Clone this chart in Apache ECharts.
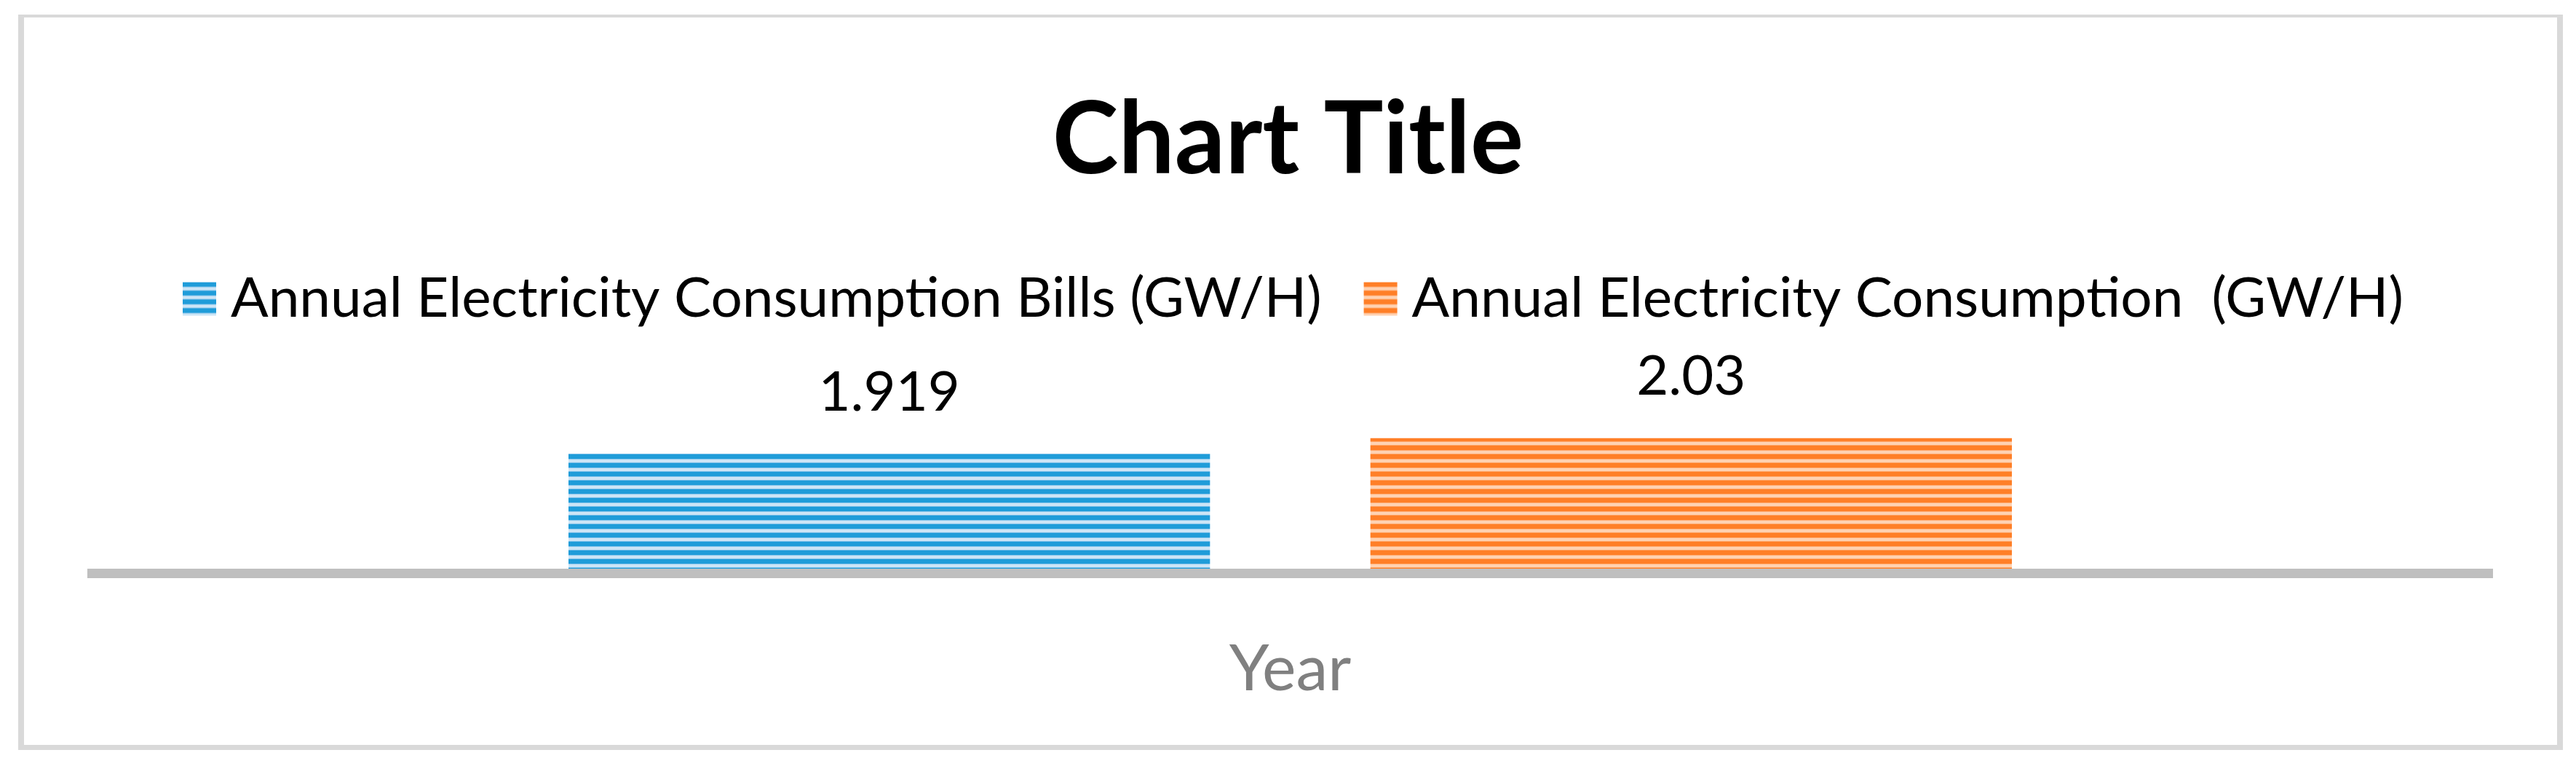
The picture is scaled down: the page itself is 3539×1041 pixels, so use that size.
<!DOCTYPE html>
<html><head><meta charset="utf-8">
<script src="https://cdn.jsdelivr.net/npm/echarts@6/dist/echarts.min.js"></script>
<style>html,body{margin:0;padding:0;background:#fff}#c{width:3539px;height:1041px}</style>
</head><body><div id="c"></div>
<script>
const categories = [''];
const seriesNames = ['Annual Electricity Consumption Bills (GW/H)', 'Annual Electricity Consumption  (GW/H)'];
const billsValues = [1.919];
const consumptionValues = [2.03];
const chartTitle = 'Chart Title';
const axisName = 'Year';

const FONT = 'Lato';

function stripes(dark, mid, light) {
  const c = document.createElement('canvas');
  c.width = 8; c.height = 12;
  const g = c.getContext('2d');
  g.fillStyle = light; g.fillRect(0, 0, 8, 12);
  g.fillStyle = mid; g.fillRect(0, 6, 8, 1); g.fillRect(0, 11, 8, 1);
  g.fillStyle = dark; g.fillRect(0, 0, 8, 6);
  return c;
}
const bluePattern = { image: stripes('#1f9cd9', '#7cc0e9', '#cde5f6'), repeat: 'repeat' };
const orangePattern = { image: stripes('#ff7f27', '#ffa76a', '#ffd2b2'), repeat: 'repeat' };

const chart = echarts.init(document.getElementById('c'), null, { renderer: 'canvas' });

const labelStyle = {
  show: true, position: 'top', distance: 46,
  color: '#000', fontFamily: FONT, fontSize: 76, lineHeight: 76
};

chart.setOption({
  backgroundColor: '#ffffff',
  animation: false,
  title: {
    text: chartTitle, left: 'center', top: 120,
    textStyle: { fontFamily: FONT, fontWeight: 'bold', fontSize: 137, lineHeight: 137, color: '#000' }
  },
  legend: {
    left: 246, top: 367,
    itemWidth: 46, itemHeight: 46, itemGap: 58,
    icon: 'rect',
    textStyle: { fontFamily: FONT, fontSize: 76.5, lineHeight: 76, color: '#000', padding: [0, 0, 0, 15] },
    data: seriesNames
  },
  grid: { left: 120, right: 114, top: 472.4, bottom: 260, containLabel: false },
  xAxis: {
    type: 'category', data: categories,
    offset: 6.5,
    axisLine: { show: true, lineStyle: { color: '#bfbfbf', width: 13, cap: 'butt' } },
    axisTick: { show: false },
    axisLabel: { show: false },
    name: axisName, nameLocation: 'middle', nameGap: 88,
    nameTextStyle: { fontFamily: FONT, fontSize: 88, lineHeight: 88, color: '#808080' }
  },
  yAxis: { type: 'value', min: 1.1, max: 2.7, show: false },
  series: [
    { name: seriesNames[0], type: 'bar', data: billsValues, barCategoryGap: '40%', barGap: '25%',
      itemStyle: { color: bluePattern }, label: labelStyle },
    { name: seriesNames[1], type: 'bar', data: consumptionValues, barCategoryGap: '40%', barGap: '25%',
      itemStyle: { color: orangePattern }, label: labelStyle }
  ],
  graphic: [
    { type: 'rect', shape: { x: 25, y: 20, width: 8, height: 1010 }, style: { fill: '#d9d9d9' }, silent: true },
    { type: 'rect', shape: { x: 3513, y: 20, width: 8, height: 1010 }, style: { fill: '#d9d9d9' }, silent: true },
    { type: 'rect', shape: { x: 25, y: 20, width: 3496, height: 4 }, style: { fill: '#d9d9d9' }, silent: true },
    { type: 'rect', shape: { x: 25, y: 1023, width: 3496, height: 7 }, style: { fill: '#d9d9d9' }, silent: true }
  ]
});
</script></body></html>
